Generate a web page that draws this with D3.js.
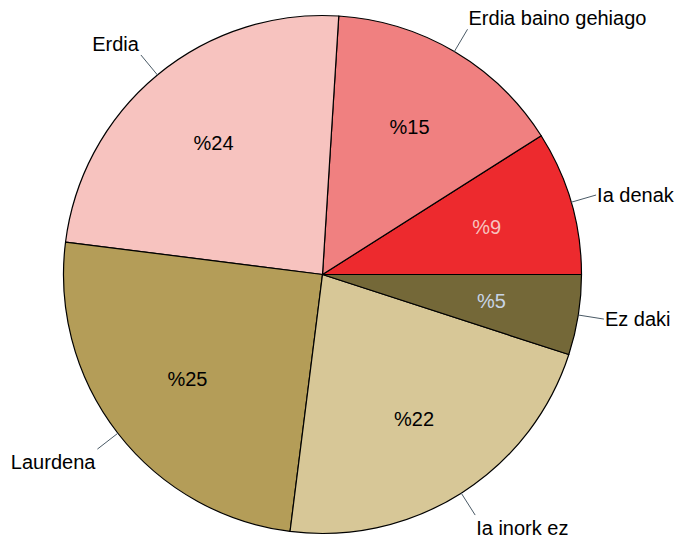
<!DOCTYPE html>
<html>
<head>
<meta charset="utf-8">
<script src="https://cdn.jsdelivr.net/npm/d3@7"></script>
<style>
  body { margin: 0; background: #fff; }
  text { font-family: "Liberation Sans", Arial, sans-serif; }
</style>
</head>
<body>
<div id="chart"></div>
<script>
// slice data, counter-clockwise from 3 o'clock (like R's pie)
var labels = ["Ia denak", "Erdia baino gehiago", "Erdia", "Laurdena", "Ia inork ez", "Ez daki"];
var values = [9, 15, 24, 25, 22, 5];
var pctLabels = ["%9", "%15", "%24", "%25", "%22", "%5"];
var colors = ["#ED2A2E", "#F08080", "#F7C3BF", "#B49D58", "#D7C797", "#746838"];
var pctColors = ["#F7C3BF", "#000000", "#000000", "#000000", "#000000", "#C8D4E6"];

var width = 676, height = 540;
var cx = 322.5, cy = 274.5, r = 259;

var svg = d3.select("#chart")
  .append("svg")
    .attr("width", width)
    .attr("height", height);

var g = svg.append("g")
    .attr("transform", "translate(" + cx + "," + cy + ")");

var data = values.map(function(v, i) { return {label: labels[i], value: v, pct: pctLabels[i], i: i}; });

// d3.pie angles are clockwise from 12 o'clock; map so slices go CCW from 3 o'clock
var pie = d3.pie()
  .sort(null)
  .value(function(d) { return d.value; })
  .startAngle(Math.PI / 2)
  .endAngle(Math.PI / 2 - 2 * Math.PI);

var arcs = pie(data);

var arc = d3.arc().innerRadius(0).outerRadius(r);

g.selectAll("path.slice")
  .data(arcs)
  .enter()
  .append("path")
    .attr("class", "slice")
    .attr("d", arc)
    .attr("fill", function(d) { return colors[d.data.i]; })
    .attr("stroke", "#000")
    .attr("stroke-width", 1.2)
    .attr("stroke-linejoin", "round");

// position helper (d3 angle: 0 at top, clockwise)
function pt(a, rad) {
  return [rad * Math.sin(a), -rad * Math.cos(a)];
}
function mid(d) { return (d.startAngle + d.endAngle) / 2; }

// tick lines from r to 1.1r
g.selectAll("line.tick")
  .data(arcs)
  .enter()
  .append("line")
    .attr("x1", function(d) { return pt(mid(d), r)[0]; })
    .attr("y1", function(d) { return pt(mid(d), r)[1]; })
    .attr("x2", function(d) { return pt(mid(d), r * 1.1)[0]; })
    .attr("y2", function(d) { return pt(mid(d), r * 1.1)[1]; })
    .attr("stroke", "#4a5a66")
    .attr("stroke-width", 1);

// outer labels at the end of each tick; above/below when near top/bottom
g.selectAll("text.outer")
  .data(arcs)
  .enter()
  .append("text")
    .attr("x", function(d) {
      var p = pt(mid(d), r * 1.1);
      return p[0] + (Math.sin(mid(d)) < 0 ? -2 : 1);
    })
    .attr("y", function(d) {
      var p = pt(mid(d), r * 1.1), c = Math.cos(mid(d));
      return p[1] + (Math.abs(c) > 0.5 ? (c > 0 ? -11 : 13) : 0);
    })
    .attr("dy", "0.35em")
    .attr("text-anchor", function(d) { return Math.sin(mid(d)) < 0 ? "end" : "start"; })
    .style("font-size", "20px")
    .attr("fill", "#000")
    .text(function(d) { return d.data.label; });

// percentage labels inside
g.selectAll("text.pct")
  .data(arcs)
  .enter()
  .append("text")
    .attr("x", function(d) { return pt(mid(d), r * 0.66)[0]; })
    .attr("y", function(d) { return pt(mid(d), r * 0.66)[1]; })
    .attr("dy", "0.35em")
    .attr("text-anchor", "middle")
    .style("font-size", "20px")
    .attr("fill", function(d) { return pctColors[d.data.i]; })
    .text(function(d) { return d.data.pct; });
</script>
</body>
</html>
